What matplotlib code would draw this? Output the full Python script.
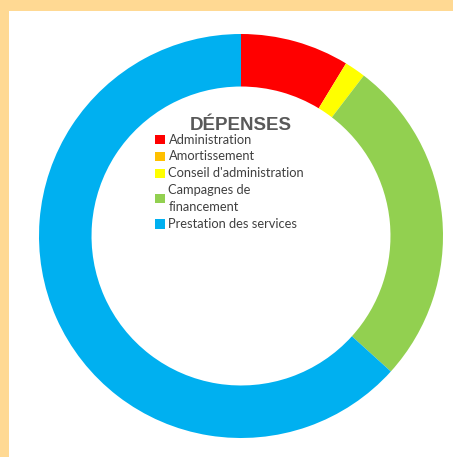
import matplotlib
matplotlib.use("Agg")
import matplotlib.pyplot as plt
from matplotlib.patches import Rectangle

categories = ["Administration", "Amortissement", "Conseil d'administration",
              "Campagnes de\nfinancement", "Prestation des services"]
values = [8.7, 0.0, 1.7, 26.3, 63.3]
colors = ["#FF0000", "#FFC000", "#FFFF00", "#92D050", "#00B0F0"]
title = "DÉPENSES"

W, H = 453, 457
fig = plt.figure(figsize=(W / 100, H / 100), dpi=100)
fig.patch.set_facecolor("white")

# orange border on top and left
fig.add_artist(Rectangle((0, 1 - 11 / H), 1, 11 / H, transform=fig.transFigure,
                         facecolor="#FFD993", edgecolor="none", zorder=0))
fig.add_artist(Rectangle((0, 0), 9 / W, 1, transform=fig.transFigure,
                         facecolor="#FFD993", edgecolor="none", zorder=0))

cx, cy, R = 241, 236, 202
ax = fig.add_axes([(cx - R) / W, (H - cy - R) / H, 2 * R / W, 2 * R / H])
ax.pie(values, colors=colors, startangle=90, counterclock=False, radius=1,
       wedgeprops=dict(width=0.26, edgecolor="none"))
ax.set_xlim(-1, 1)
ax.set_ylim(-1, 1)
ax.set_aspect("equal")
ax.axis("off")

# legend
fig.text(241 / W, 1 - 125 / H, title, ha="center", va="center",
         fontsize=13.5, fontweight="bold", color="#595959",
         family="Liberation Sans")
y = 139.5
step = 16.9
for lab, col in zip(categories, colors):
    lines = lab.split("\n")
    centers = [y + i * step for i in range(len(lines))]
    mid = sum(centers) / len(centers)
    fig.add_artist(Rectangle((155 / W, 1 - (mid + 4.5) / H), 10 / W, 9 / H,
                             transform=fig.transFigure, facecolor=col,
                             edgecolor="none"))
    for c, line in zip(centers, lines):
        fig.text(168.5 / W, 1 - c / H, line, ha="left", va="center",
                 fontsize=9.3, color="#404040", family="Lato")
    y += step * len(lines)

fig.savefig("out.png", dpi=100)
